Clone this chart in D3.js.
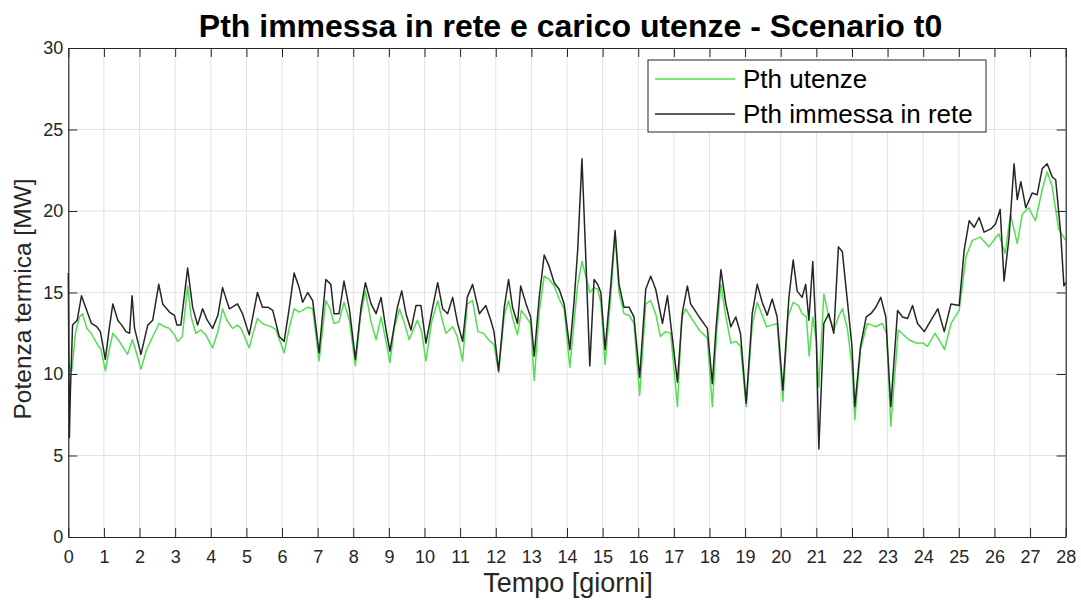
<!DOCTYPE html>
<html>
<head>
<meta charset="utf-8">
<script src="https://cdn.jsdelivr.net/npm/d3@7"></script>
<style>
  html, body { margin: 0; padding: 0; background: #fff; }
  svg { display: block; font-family: "Liberation Sans", Arial, Helvetica, sans-serif; }
</style>
</head>
<body>
<svg id="chart" width="1081" height="602"></svg>
<script>
// Thermal load of the users (green) over 28 days, in MW
const tUtenze = [0, 0.1, 0.2, 0.31, 0.4, 0.52, 0.64, 0.82, 0.92, 1.04, 1.15, 1.25, 1.4, 1.55, 1.66, 1.8, 1.9, 2.04, 2.2, 2.37, 2.55, 2.7, 2.84, 2.98, 3.07, 3.2, 3.35, 3.45, 3.58, 3.72, 3.86, 4.05, 4.2, 4.33, 4.45, 4.61, 4.75, 4.85, 5.08, 5.2, 5.31, 5.45, 5.55, 5.7, 5.83, 6.06, 6.2, 6.34, 6.48, 6.58, 6.72, 6.86, 7.04, 7.23, 7.35, 7.46, 7.6, 7.74, 7.89, 8.06, 8.2, 8.34, 8.5, 8.64, 8.78, 8.92, 9.03, 9.15, 9.3, 9.45, 9.57, 9.7, 9.8, 9.92, 10.04, 10.2, 10.37, 10.5, 10.6, 10.79, 10.92, 11.07, 11.2, 11.35, 11.5, 11.65, 11.8, 11.95, 12.08, 12.24, 12.36, 12.5, 12.61, 12.72, 12.85, 12.98, 13.08, 13.22, 13.36, 13.5, 13.64, 13.78, 13.92, 14.08, 14.2, 14.3, 14.42, 14.53, 14.64, 14.76, 14.86, 14.95, 15.07, 15.23, 15.35, 15.46, 15.6, 15.74, 15.88, 16.04, 16.21, 16.35, 16.5, 16.62, 16.77, 16.91, 17.1, 17.22, 17.33, 17.5, 17.71, 17.94, 18.08, 18.2, 18.32, 18.46, 18.6, 18.74, 18.87, 19.03, 19.2, 19.34, 19.48, 19.6, 19.75, 19.9, 20.06, 20.2, 20.35, 20.5, 20.6, 20.72, 20.8, 20.9, 21.0, 21.07, 21.21, 21.35, 21.49, 21.62, 21.73, 21.87, 22.0, 22.08, 22.24, 22.43, 22.55, 22.67, 22.85, 22.97, 23.09, 23.3, 23.5, 23.6, 23.8, 24.0, 24.12, 24.33, 24.5, 24.6, 24.78, 25.01, 25.2, 25.38, 25.6, 25.84, 26.12, 26.3, 26.45, 26.64, 26.78, 26.96, 27.15, 27.34, 27.48, 27.62, 27.8, 28];
const pUtenze = [10.5, 10.2, 12.5, 13.5, 13.7, 12.8, 12.5, 11.8, 11.5, 10.2, 11.5, 12.5, 12.1, 11.6, 11.2, 12.1, 11.4, 10.3, 11.5, 12.3, 13.1, 12.9, 12.8, 12.4, 12.0, 12.3, 15.4, 13.5, 12.5, 12.7, 12.4, 11.6, 12.6, 14.0, 13.3, 12.8, 13.0, 12.8, 11.6, 12.6, 13.4, 13.1, 13.0, 12.9, 12.7, 11.3, 12.8, 14.0, 13.8, 13.9, 14.1, 14.0, 10.8, 14.5, 14.0, 13.1, 13.2, 14.4, 13.3, 10.5, 13.5, 15.1, 13.2, 12.1, 13.5, 12.0, 10.7, 12.8, 14.0, 13.0, 12.1, 12.8, 13.3, 12.6, 10.8, 13.2, 14.5, 13.3, 12.5, 12.9, 12.3, 10.8, 14.3, 14.5, 12.6, 12.5, 12.1, 11.8, 10.1, 13.6, 14.5, 13.2, 12.4, 13.9, 13.5, 13.1, 9.6, 13.8, 16.0, 15.8, 15.4, 14.6, 14.0, 10.4, 13.2, 15.5, 16.9, 16.0, 15.0, 15.3, 15.2, 14.4, 10.6, 14.8, 18.6, 15.0, 13.7, 13.6, 13.1, 8.7, 14.3, 14.5, 13.6, 12.3, 12.6, 12.5, 8.0, 13.4, 14.0, 13.4, 12.7, 12.2, 8.0, 12.5, 15.5, 13.5, 11.9, 12.0, 11.7, 8.0, 13.0, 14.4, 13.6, 12.9, 13.0, 13.1, 8.3, 13.5, 14.4, 14.2, 13.7, 13.5, 11.1, 13.5, 12.0, 9.2, 14.9, 13.5, 12.7, 13.5, 14.0, 12.8, 10.5, 7.2, 11.5, 13.1, 13.0, 12.9, 13.1, 12.5, 6.8, 12.7, 12.3, 12.1, 11.9, 11.9, 11.7, 12.5, 11.9, 11.5, 13.1, 13.9, 17.2, 18.2, 18.4, 17.8, 18.6, 17.4, 19.8, 18.0, 19.8, 20.2, 19.4, 21.3, 22.4, 21.5, 18.9, 18.2];

// Thermal power fed into the network (black), in MW
const tRete = [0, 0.03, 0.06, 0.12, 0.25, 0.37, 0.5, 0.65, 0.8, 0.9, 1.04, 1.15, 1.25, 1.39, 1.5, 1.62, 1.72, 1.79, 1.86, 2.04, 2.23, 2.37, 2.54, 2.65, 2.84, 2.98, 3.05, 3.16, 3.35, 3.49, 3.63, 3.77, 3.9, 4.05, 4.2, 4.33, 4.52, 4.75, 4.89, 5.08, 5.31, 5.45, 5.6, 5.74, 5.92, 6.06, 6.2, 6.34, 6.48, 6.58, 6.72, 6.86, 7.04, 7.23, 7.37, 7.46, 7.6, 7.74, 7.89, 8.06, 8.22, 8.34, 8.5, 8.64, 8.78, 8.92, 9.03, 9.24, 9.36, 9.48, 9.62, 9.76, 9.9, 10.04, 10.23, 10.37, 10.51, 10.65, 10.79, 10.93, 11.07, 11.2, 11.35, 11.54, 11.72, 11.86, 11.95, 12.08, 12.24, 12.36, 12.47, 12.61, 12.7, 12.85, 12.98, 13.08, 13.22, 13.36, 13.5, 13.64, 13.78, 13.92, 14.08, 14.2, 14.3, 14.42, 14.53, 14.64, 14.76, 14.86, 14.95, 15.07, 15.23, 15.35, 15.46, 15.6, 15.74, 15.88, 16.04, 16.21, 16.35, 16.49, 16.68, 16.82, 16.91, 17.1, 17.24, 17.38, 17.47, 17.71, 17.94, 18.08, 18.18, 18.32, 18.46, 18.6, 18.74, 18.87, 19.03, 19.2, 19.34, 19.48, 19.62, 19.76, 19.9, 20.06, 20.23, 20.35, 20.46, 20.6, 20.7, 20.79, 20.9, 21.0, 21.07, 21.21, 21.35, 21.49, 21.62, 21.73, 21.87, 22.0, 22.08, 22.24, 22.4, 22.53, 22.67, 22.81, 22.95, 23.09, 23.28, 23.42, 23.56, 23.7, 23.84, 24.03, 24.22, 24.41, 24.59, 24.78, 25.01, 25.15, 25.29, 25.43, 25.57, 25.71, 25.9, 26.03, 26.16, 26.27, 26.41, 26.55, 26.64, 26.74, 26.88, 27.06, 27.2, 27.34, 27.48, 27.62, 27.72, 27.86, 27.95, 28];
const pRete = [16.2, 6.1, 9.0, 13.0, 13.3, 14.8, 14.0, 13.1, 12.9, 12.6, 10.9, 12.8, 14.3, 13.3, 13.0, 12.6, 12.5, 14.8, 12.8, 11.2, 13.0, 13.3, 15.5, 14.3, 13.8, 13.6, 13.0, 13.0, 16.5, 14.1, 13.0, 14.0, 13.3, 12.8, 13.6, 15.3, 14.0, 14.3, 13.7, 12.4, 15.0, 14.1, 14.1, 13.9, 12.3, 12.0, 14.0, 16.2, 15.3, 14.4, 15.0, 14.5, 11.3, 15.8, 15.5, 13.7, 13.7, 15.7, 14.0, 10.9, 14.1, 15.6, 14.3, 13.7, 14.7, 12.7, 11.4, 14.1, 15.1, 13.7, 12.7, 14.2, 14.2, 11.9, 14.1, 15.6, 14.0, 13.7, 14.7, 13.1, 12.0, 14.7, 15.5, 13.7, 14.2, 13.3, 12.6, 10.2, 14.1, 15.8, 14.1, 13.1, 15.4, 14.3, 13.5, 11.1, 14.7, 17.3, 16.6, 15.6, 15.2, 14.3, 11.5, 14.5, 17.6, 23.2, 17.0, 10.5, 15.8, 15.5, 15.0, 11.5, 15.5, 18.8, 15.5, 14.1, 14.1, 13.5, 9.8, 15.2, 16.0, 15.2, 13.1, 14.8, 13.1, 9.5, 13.8, 15.4, 14.3, 13.5, 12.8, 9.4, 12.7, 16.4, 14.3, 12.9, 13.5, 12.5, 8.2, 13.7, 15.5, 14.4, 13.6, 14.6, 13.5, 9.0, 14.7, 17.0, 15.1, 14.7, 15.5, 13.3, 16.9, 12.1, 5.4, 13.1, 13.7, 12.5, 17.8, 17.5, 14.5, 11.7, 8.0, 11.7, 13.5, 13.7, 14.1, 14.7, 13.5, 8.0, 13.9, 13.5, 13.4, 14.2, 13.1, 12.6, 13.3, 14.0, 12.6, 14.3, 14.2, 17.6, 19.4, 19.0, 19.6, 18.7, 18.9, 19.2, 20.1, 15.7, 18.4, 22.9, 20.7, 21.8, 20.2, 21.1, 21.0, 22.6, 22.9, 22.1, 21.9, 18.6, 15.4, 15.6];

const xTicks = d3.range(0, 29, 1);
const yTicks = [0, 5, 10, 15, 20, 25, 30];

const seriesNames = ["Pth utenze", "Pth immessa in rete"];
const seriesColors = ["#52de52", "#262626"];

const titleText = "Pth immessa in rete e carico utenze - Scenario t0";
const xLabel = "Tempo [giorni]";
const yLabel = "Potenza termica [MW]";

const svg = d3.select("#chart");
const plotLeft = 68.3, plotRight = 1065.7, plotTop = 48, plotBottom = 537;
const axisColor = "#262626";

const x = d3.scaleLinear().domain([0, 28]).range([plotLeft, plotRight]);
const y = d3.scaleLinear().domain([0, 30]).range([plotBottom, plotTop]);

// grid
const grid = svg.append("g").attr("stroke", "#e2e2e2").attr("stroke-width", 1);
grid.selectAll("line.v").data(xTicks.slice(1, -1)).join("line").attr("class", "v")
  .attr("x1", d => x(d)).attr("x2", d => x(d)).attr("y1", plotTop).attr("y2", plotBottom);
grid.selectAll("line.h").data(yTicks.slice(1, -1)).join("line").attr("class", "h")
  .attr("x1", plotLeft).attr("x2", plotRight).attr("y1", d => y(d)).attr("y2", d => y(d));

// series
const lineGen = (ts) => d3.line().x((d, i) => x(ts[i])).y(d => y(d));
svg.append("path").datum(pUtenze).attr("d", lineGen(tUtenze))
  .attr("fill", "none").attr("stroke", seriesColors[0]).attr("stroke-width", 1.5).attr("stroke-linejoin", "round");
svg.append("path").datum(pRete).attr("d", lineGen(tRete))
  .attr("fill", "none").attr("stroke", seriesColors[1]).attr("stroke-width", 1.5).attr("stroke-linejoin", "round");

// axes
function styleAxis(g) {
  g.select(".domain").attr("stroke", axisColor).attr("stroke-width", 1.2);
  g.selectAll(".tick line").attr("stroke", axisColor).attr("stroke-width", 1);
  g.selectAll(".tick text").attr("fill", axisColor).attr("font-size", 18)
    .attr("font-family", "'Liberation Sans', Arial, Helvetica, sans-serif");
}
svg.append("g").attr("transform", `translate(0,${plotBottom})`)
  .call(d3.axisBottom(x).tickValues(xTicks).tickFormat(d3.format("d")).tickSizeInner(-9).tickSizeOuter(0).tickPadding(13))
  .call(styleAxis);
svg.append("g").attr("transform", `translate(0,${plotTop})`)
  .call(d3.axisTop(x).tickValues(xTicks).tickFormat("").tickSizeInner(-9).tickSizeOuter(0))
  .call(styleAxis);
svg.append("g").attr("transform", `translate(${plotLeft},0)`)
  .call(d3.axisLeft(y).tickValues(yTicks).tickFormat(d3.format("d")).tickSizeInner(-9).tickSizeOuter(0).tickPadding(5))
  .call(styleAxis);
svg.append("g").attr("transform", `translate(${plotRight},0)`)
  .call(d3.axisRight(y).tickValues(yTicks).tickFormat("").tickSizeInner(-9).tickSizeOuter(0))
  .call(styleAxis);

// title and axis labels
svg.append("text").attr("x", 570.5).attr("y", 37).attr("text-anchor", "middle")
  .attr("font-size", 32).attr("font-weight", "bold").attr("fill", "#000").text(titleText);
svg.append("text").attr("x", 568).attr("y", 592).attr("text-anchor", "middle")
  .attr("font-size", 27).attr("fill", axisColor).text(xLabel);
svg.append("text").attr("transform", "translate(31,299) rotate(-90)")
  .attr("text-anchor", "middle").attr("font-size", 24.5).attr("fill", axisColor).text(yLabel);

// legend
const lg = svg.append("g");
lg.append("rect").attr("x", 648).attr("y", 60).attr("width", 338).attr("height", 72)
  .attr("fill", "#fff").attr("stroke", axisColor).attr("stroke-width", 1);
seriesNames.forEach((name, i) => {
  const ly = 79 + i * 35;
  lg.append("line").attr("x1", 655).attr("x2", 735).attr("y1", ly).attr("y2", ly)
    .attr("stroke", seriesColors[i]).attr("stroke-width", 1.5);
  lg.append("text").attr("x", 743).attr("y", ly).attr("dy", "0.35em")
    .attr("font-size", 26).attr("fill", "#000").text(name);
});
</script>
</body>
</html>
